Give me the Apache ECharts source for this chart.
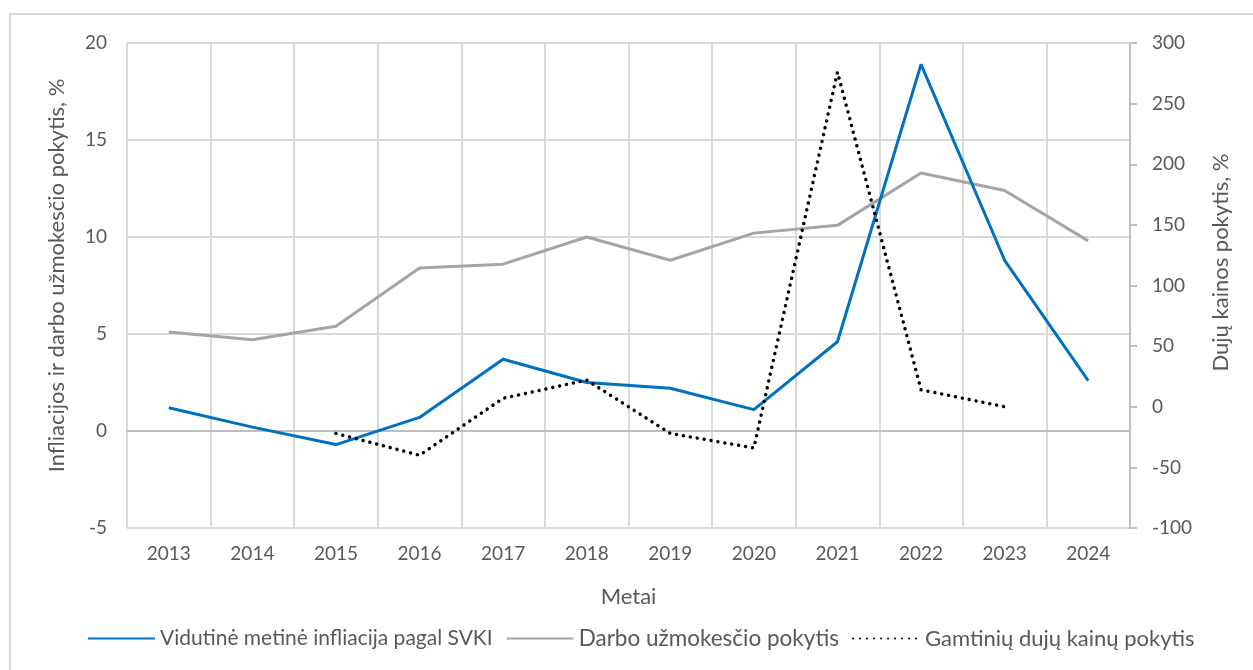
<!DOCTYPE html>
<html>
<head>
<meta charset="utf-8">
<script src="https://cdn.jsdelivr.net/npm/echarts@6/dist/echarts.min.js"></script>
<style>
html,body{margin:0;padding:0;background:#fff;}
#frame{position:absolute;left:9px;top:13px;width:1260px;height:680px;border:2px solid #d9d9d9;box-sizing:border-box;}
#chart{position:absolute;left:0;top:0;width:1253px;height:670px;}
</style>
</head>
<body>
<div id="frame"></div>
<div id="chart"></div>
<script>
// metai
var years = ['2013','2014','2015','2016','2017','2018','2019','2020','2021','2022','2023','2024'];
// kairė ašis, %
var infliacija = [1.2, 0.2, -0.7, 0.7, 3.7, 2.5, 2.2, 1.1, 4.6, 18.9, 8.8, 2.6];
var darboUzmokestis = [5.1, 4.7, 5.4, 8.4, 8.6, 10.0, 8.8, 10.2, 10.6, 13.3, 12.4, 9.8];
// dešinė ašis, %
var dujuKainos = [null, null, -22, -40, 7, 22, -22, -34, 276, 14, 0, null];

var seriesNames = ['Vidutinė metinė infliacija pagal SVKI', 'Darbo užmokesčio pokytis', 'Gamtinių dujų kainų pokytis'];

var font = 'Lato, "Open Sans", sans-serif';
var txt = '#595959';

var chart = echarts.init(document.getElementById('chart'));
chart.setOption({
    animation: false,
    textStyle: {fontFamily: font},
    grid: {left: 127, right: 123, top: 43, bottom: 142},
    legend: {
        bottom: 15,
        left: 82,
        itemWidth: 67,
        itemHeight: 3,
        itemGap: 13,
        itemStyle: {opacity: 0},
        textStyle: {color: txt, fontSize: 21, fontFamily: font},
        data: [
            {name: seriesNames[0]},
            {name: seriesNames[1], textStyle: {fontSize: 22.5}},
            {name: seriesNames[2], textStyle: {fontSize: 22}}
        ]
    },
    xAxis: {
        type: 'category',
        data: years,
        name: 'Metai',
        nameLocation: 'middle',
        nameGap: 58,
        nameTextStyle: {color: txt, fontSize: 22},
        axisLine: {lineStyle: {color: '#bfbfbf', width: 2}},
        axisTick: {show: false},
        axisLabel: {color: txt, fontSize: 19, margin: 16},
        splitLine: {show: true, lineStyle: {color: '#d9d9d9', width: 2}}
    },
    yAxis: [
        {
            type: 'value',
            min: -5, max: 20, interval: 5,
            name: 'Infliacijos ir darbo užmokesčio pokytis, %',
            nameLocation: 'middle',
            nameGap: 59,
            nameTextStyle: {color: txt, fontSize: 22, padding: [0, 0, 0, 20]},
            axisLine: {show: false},
            axisTick: {show: false},
            axisLabel: {color: txt, fontSize: 19, margin: 20},
            splitLine: {lineStyle: {color: '#d9d9d9', width: 2}}
        },
        {
            type: 'value',
            min: -100, max: 300, interval: 50,
            name: 'Dujų kainos pokytis, %',
            nameLocation: 'middle',
            nameGap: 80,
            nameTextStyle: {color: txt, fontSize: 22, padding: [0, 0, 0, 46]},
            axisLine: {show: true, lineStyle: {color: '#bfbfbf', width: 2}},
            axisTick: {show: true, length: 7, lineStyle: {color: '#bfbfbf', width: 2}},
            axisLabel: {color: txt, fontSize: 19, margin: 22},
            splitLine: {show: false}
        }
    ],
    series: [
        {
            name: seriesNames[0],
            type: 'line',
            data: infliacija,
            symbol: 'none',
            lineStyle: {color: '#0070c0', width: 3},
            itemStyle: {color: '#0070c0'},
            z: 3
        },
        {
            name: seriesNames[1],
            type: 'line',
            data: darboUzmokestis,
            symbol: 'none',
            lineStyle: {color: '#a5a5a5', width: 3},
            itemStyle: {color: '#a5a5a5'},
            z: 2
        },
        {
            name: seriesNames[2],
            type: 'line',
            yAxisIndex: 1,
            data: dujuKainos,
            symbol: 'none',
            lineStyle: {color: '#000', width: 3.5, type: [0.01, 7], cap: 'round'},
            itemStyle: {color: '#000'},
            z: 4
        }
    ]
});
</script>
</body>
</html>
